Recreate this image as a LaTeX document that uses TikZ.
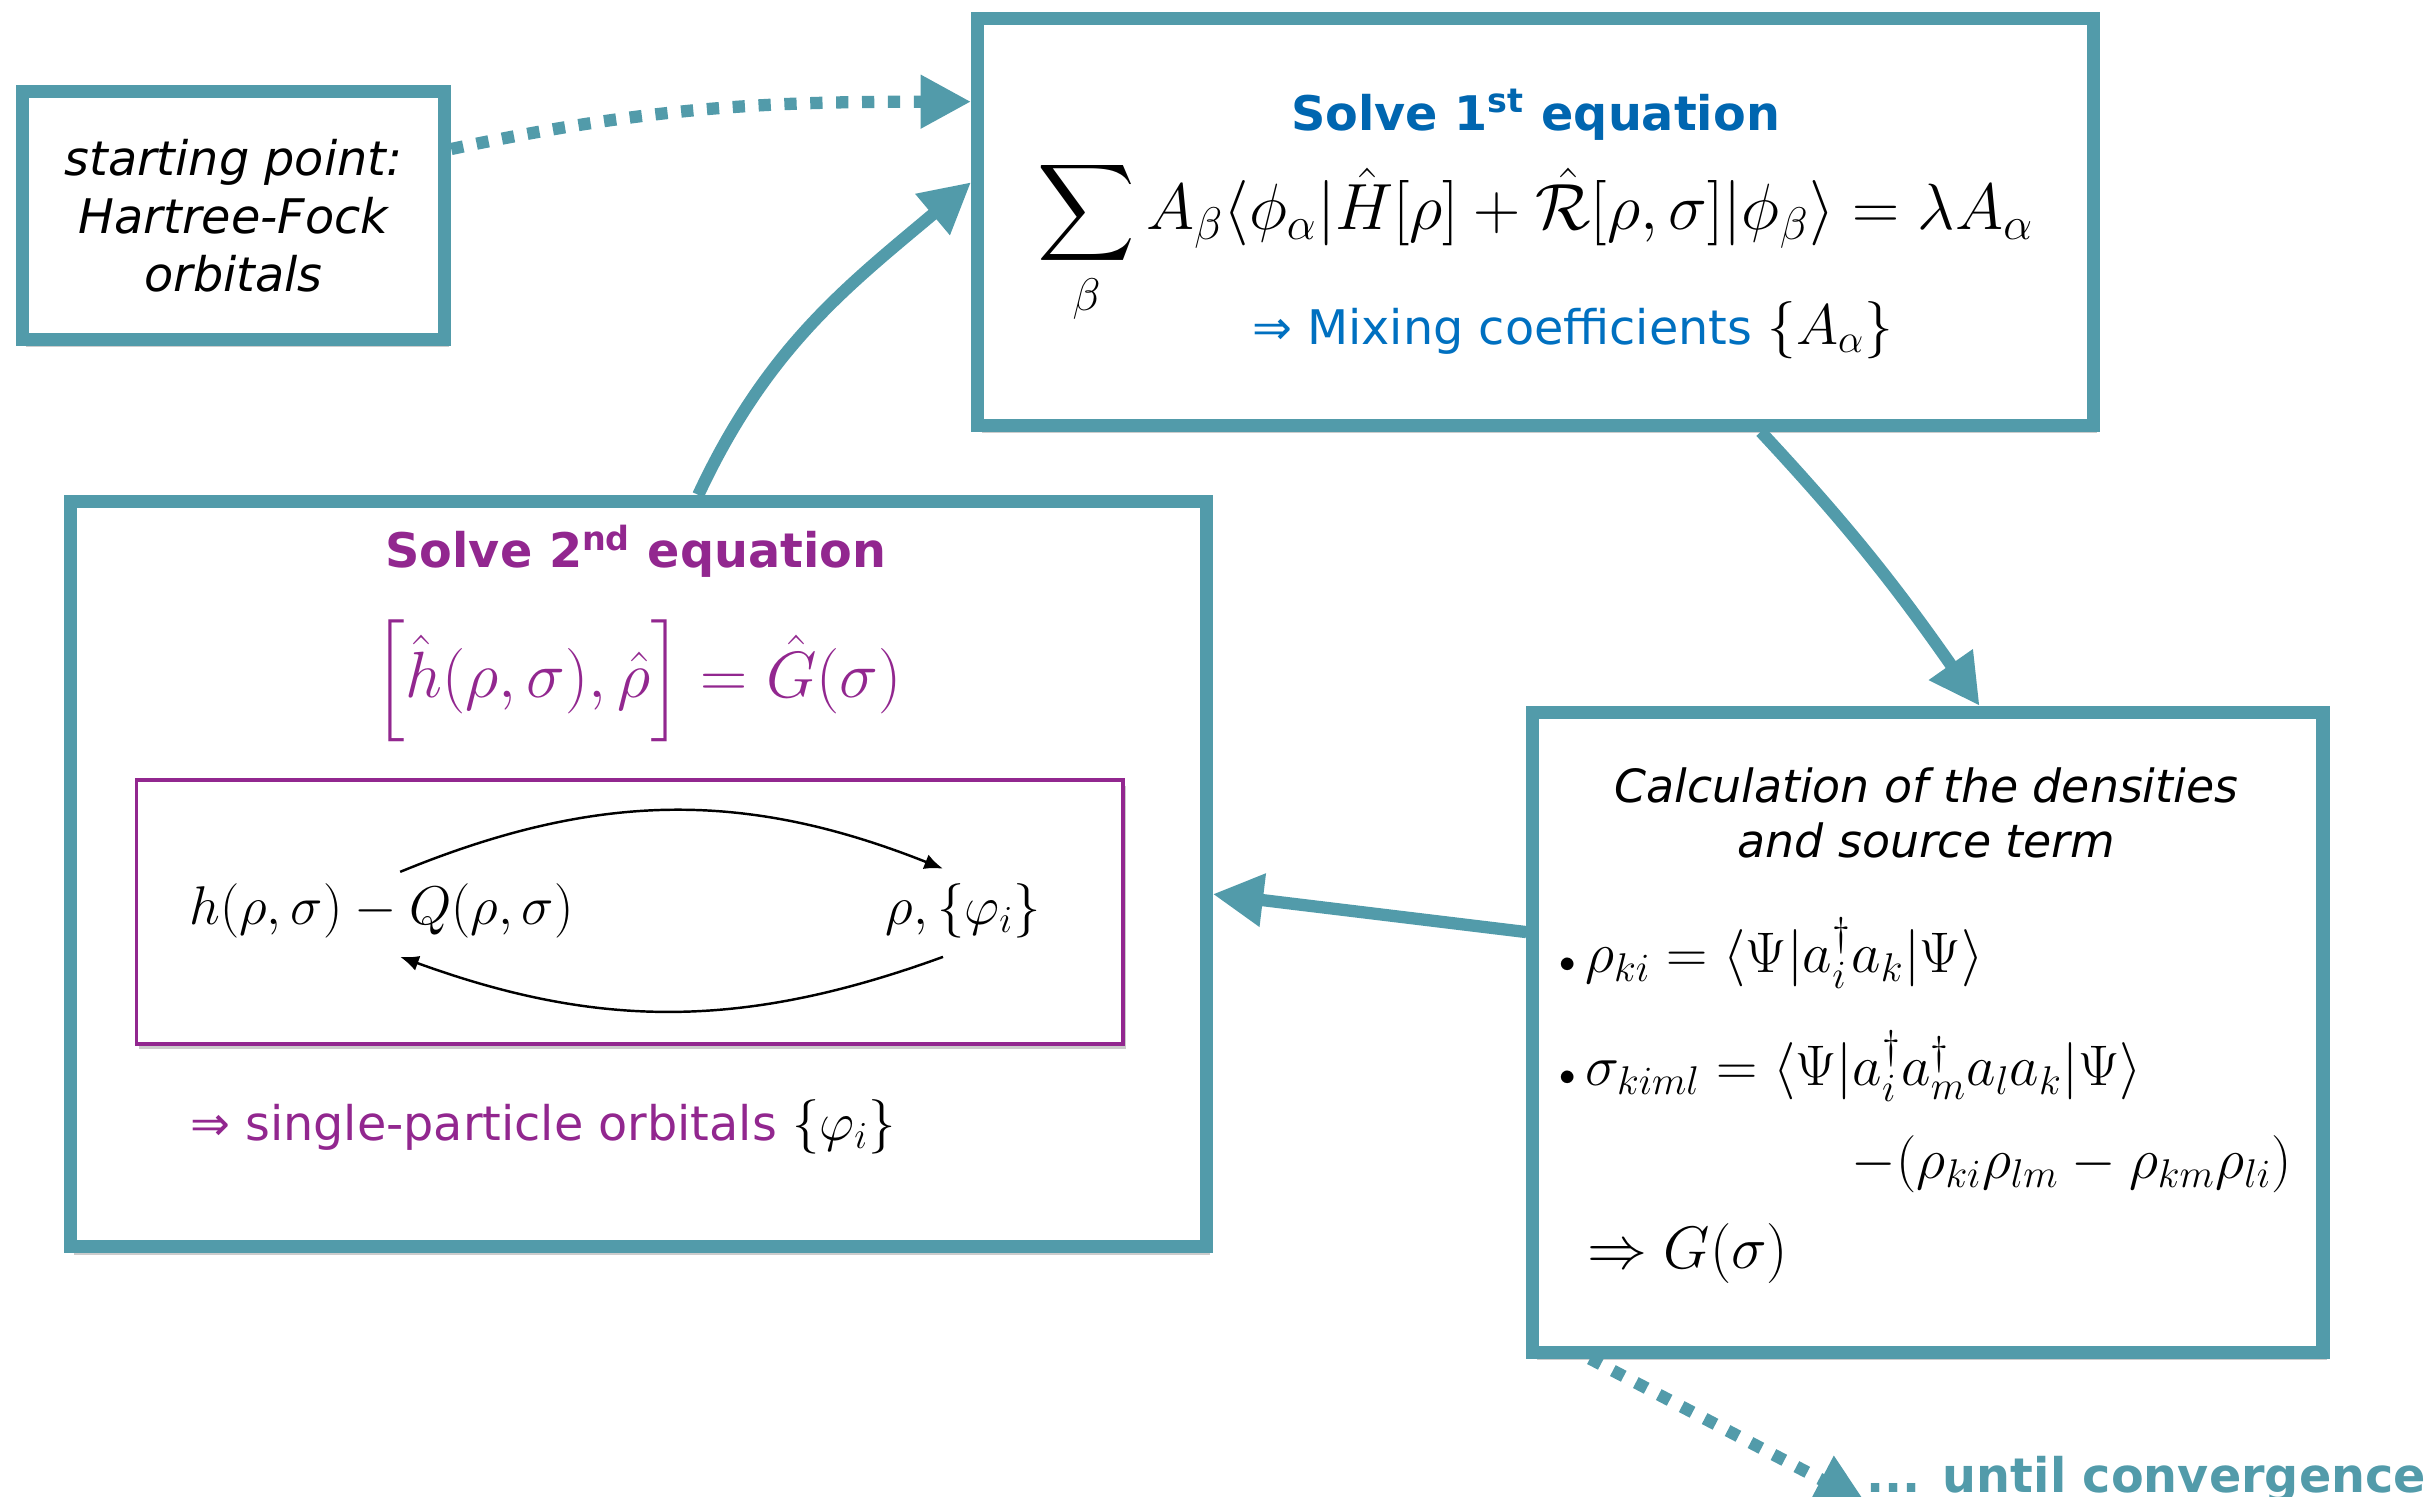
\RequirePackage{fix-cm}
\documentclass[tikz,border=0pt]{standalone}
\usepackage{exscale}
\usepackage{fontspec}
\setmainfont{DejaVu Sans}
\usepackage{xcolor}
\usetikzlibrary{arrows.meta, positioning, shadows}

\definecolor{loopteal}{RGB}{82,155,170}
\definecolor{titleblue}{RGB}{0,102,176}
\definecolor{textblue}{RGB}{0,112,192}
\definecolor{eqpurple}{RGB}{146,39,143}

\begin{document}
\begin{tikzpicture}[x=0.02cm, y=-0.02cm,
  box/.style={draw=loopteal, line width=4.8pt, fill=white, inner sep=0pt,
              drop shadow={shadow xshift=1.5pt, shadow yshift=-3pt, opacity=0.2, fill=black}},
  txt/.style={inner sep=0pt, font=\fontsize{17.5}{21.3}\selectfont},
  ttl/.style={inner sep=0pt, font=\fontsize{17.5}{21.3}\selectfont\bfseries, text=#1},
  eqn/.style={inner sep=0pt, font=\fontsize{#1}{#1}\selectfont},
  arr/.style={-{Triangle[length=0.65cm, width=0.65cm]}, line width=4.5pt, loopteal},
  dotarr/.style={arr, dash pattern=on 4.5pt off 5pt},
  cycarr/.style={-{Latex[length=2.4mm, width=2mm]}, line width=0.9pt},
]
  \useasboundingbox (0,0) rectangle (1568,964.6);

  \node[box, minimum width=5.45cm, minimum height=3.19cm, align=center,
        font=\fontsize{17.5}{21.3}\selectfont\itshape] (start) at (150.5,139)
        {starting point:\\Hartree-Fock\\orbitals};

  \node[box, minimum width=14.39cm, minimum height=5.25cm] (first) at (990,142.9) {};
  \node[ttl=titleblue, anchor=base] (firsttitle) at (990,84) {Solve 1\textsuperscript{st} equation};
  \node[eqn=24, anchor=base] (firsteq) at (990,148)
    {$\displaystyle\sum_{\beta} A_\beta \langle\phi_\alpha|\hat{H}[\rho]+\hat{\mathcal{R}}[\rho,\sigma]|\phi_\beta\rangle = \lambda A_\alpha$};
  \node[txt, text=textblue, anchor=base] (mixing) at (1014,222)
    {⇒ Mixing coefficients {\color{black}\fontsize{21}{21}\selectfont$\{A_\alpha\}$}};

  \node[box, minimum width=14.65cm, minimum height=9.61cm] (second) at (411.5,563.5) {};
  \node[ttl=eqpurple, anchor=base] (secondtitle) at (410,366) {Solve 2\textsuperscript{nd} equation};
  \node[eqn=24, text=eqpurple] (secondeq) at (411,439)
    {$\left[\hat{h}(\rho,\sigma),\hat{\rho}\right]=\hat{G}(\sigma)$};
  \node[draw=eqpurple, line width=1.4pt, fill=white, minimum width=12.72cm, minimum height=3.4cm,
        drop shadow={shadow xshift=1pt, shadow yshift=-2pt, opacity=0.2, fill=black}] (selfcons) at (406,588) {};
  \node[eqn=20] (hq) at (246,587) {$h(\rho,\sigma)-Q(\rho,\sigma)$};
  \node[eqn=20] (rho) at (621,587) {$\rho,\{\varphi_i\}$};
  \draw[cycarr] ([xshift=0.24cm, yshift=0.14cm]hq.north) to[bend left=22] ([xshift=-0.26cm, yshift=0.18cm]rho.north);
  \draw[cycarr] ([xshift=-0.26cm, yshift=-0.24cm]rho.south) to[bend left=20] ([xshift=0.24cm, yshift=-0.24cm]hq.south);
  \node[txt, text=eqpurple, anchor=base] (orbitals) at (350,735)
    {⇒ single-particle orbitals {\color{black}\fontsize{20}{20}\selectfont$\{\varphi_i\}$}};

  \node[box, minimum width=10.19cm, minimum height=8.25cm] (calc) at (1243,665.5) {};
  \node[txt, align=center, font=\fontsize{16.8}{20.4}\selectfont\itshape] (calctitle) at (1242,524)
    {Calculation of the densities\\and source term};
  \node[eqn=21, anchor=base west] (rhoki) at (1005,627)
    {{\fontsize{12}{12}\selectfont$\bullet$}\,$\rho_{ki}=\langle\Psi|a_i^\dagger a_k|\Psi\rangle$};
  \node[eqn=21, anchor=base west] (sigma) at (1005,700)
    {{\fontsize{12}{12}\selectfont$\bullet$}\,$\sigma_{kiml}=\langle\Psi|a_i^\dagger a_m^\dagger a_l a_k|\Psi\rangle$};
  \node[eqn=21, anchor=base east] (corr) at (1478,760) {$-(\rho_{ki}\rho_{lm}-\rho_{km}\rho_{li})$};
  \node[eqn=22, anchor=base west] (gsig) at (1023,818) {$\Rightarrow G(\sigma)$};

  \node[ttl=loopteal, anchor=base west] (conv) at (1203,962) {... until convergence};

  \draw[dotarr] (start.17) to[out=12, in=180] (first.168);
  \draw[arr] (second.81) to[out=65, in=220] (first.176);
  \draw[arr] (first.-43) to[out=-47, in=125] (calc.81);
  \draw[arr] (calc.166) -- (second.-2);
  \draw[dotarr] (calc.-136) -- (conv.south west);
\end{tikzpicture}
\end{document}
